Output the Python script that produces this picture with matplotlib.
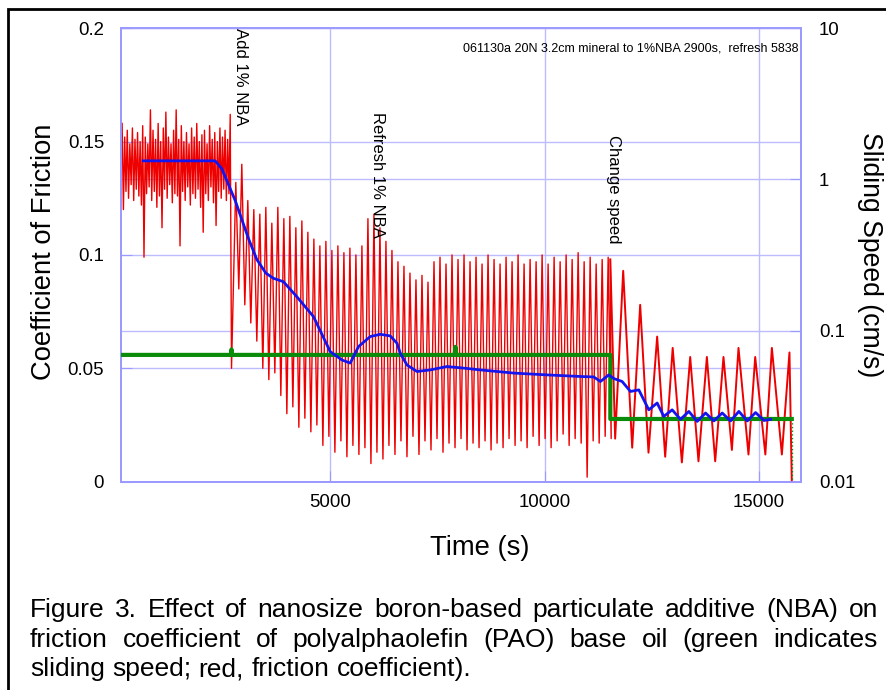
import numpy as np
import matplotlib
matplotlib.use("Agg")
import matplotlib.pyplot as plt
from matplotlib.patches import Rectangle

plt.rcParams['font.family'] = ['Liberation Sans', 'DejaVu Sans']

# --- friction, part A: dense noise before the additive (cycle start, step) ---
a_start, a_step = 150, 60
a_peaks = [0.158, 0.152, 0.155, 0.149, 0.156, 0.151, 0.154, 0.150, 0.157, 0.152,
           0.149, 0.164, 0.155, 0.151, 0.158, 0.150, 0.156, 0.163, 0.152, 0.149,
           0.155, 0.164, 0.151, 0.157, 0.150, 0.154, 0.149, 0.156, 0.152, 0.158,
           0.150, 0.153, 0.155, 0.149, 0.157, 0.151, 0.154, 0.150, 0.156, 0.152,
           0.155, 0.151, 0.162]
a_troughs = [0.120, 0.128, 0.125, 0.131, 0.124, 0.129, 0.126, 0.122, 0.099, 0.127,
             0.130, 0.124, 0.128, 0.121, 0.126, 0.112, 0.129, 0.125, 0.131, 0.123,
             0.127, 0.126, 0.104, 0.128, 0.124, 0.130, 0.122, 0.127, 0.125, 0.129,
             0.121, 0.110, 0.127, 0.124, 0.130, 0.123, 0.113, 0.128, 0.125, 0.129,
             0.124, 0.127, 0.050]

# --- friction, part B: stick-slip cycles after adding NBA ---
b_start, b_step = 2800, 140
b_peaks = [0.132, 0.140, 0.124, 0.120, 0.118, 0.121, 0.114, 0.121, 0.116, 0.117,
           0.112, 0.115, 0.110, 0.107, 0.104, 0.106, 0.102, 0.104, 0.101, 0.103,
           0.100, 0.104, 0.116, 0.118, 0.112, 0.106, 0.102, 0.097, 0.095, 0.092,
           0.089, 0.091, 0.088, 0.097, 0.099, 0.096, 0.100, 0.098, 0.100, 0.097,
           0.099, 0.096, 0.100, 0.098, 0.096, 0.099, 0.097, 0.100, 0.096, 0.098,
           0.097, 0.100, 0.096, 0.099, 0.097, 0.100, 0.098, 0.101, 0.097, 0.099,
           0.096, 0.098, 0.099]
b_troughs = [0.085, 0.078, 0.070, 0.062, 0.050, 0.045, 0.048, 0.038, 0.030, 0.033,
             0.024, 0.028, 0.022, 0.025, 0.016, 0.020, 0.013, 0.018, 0.011, 0.016,
             0.012, 0.015, 0.008, 0.013, 0.010, 0.016, 0.012, 0.018, 0.011, 0.020,
             0.012, 0.018, 0.014, 0.019, 0.013, 0.017, 0.015, 0.019, 0.014, 0.017,
             0.015, 0.018, 0.014, 0.017, 0.015, 0.019, 0.016, 0.018, 0.015, 0.020,
             0.016, 0.019, 0.015, 0.018, 0.021, 0.016, 0.019, 0.017, 0.002, 0.018,
             0.017, 0.020, 0.019]

# --- friction, part C: slower speed ---
c_peak_t = [11830, 12226, 12622, 12984, 13392, 13781, 14168, 14518, 14907, 15296, 15706]
c_peaks = [0.093, 0.078, 0.064, 0.059, 0.055, 0.055, 0.055, 0.059, 0.055, 0.059, 0.057]
c_trough_t = [11643, 12040, 12420, 12809, 13198, 13585, 13975, 14364, 14751, 15144, 15529]
c_troughs = [0.019, 0.015, 0.0128, 0.011, 0.0085, 0.009, 0.009, 0.014, 0.012, 0.012, 0.012]
end_t, end_mu = 15760, 0.0

# --- smoothed friction (blue) ---
avg_t = [641, 2319, 2475, 2786, 3100, 3290, 3500, 3677, 3910, 4222, 4611, 5000, 5272,
         5467, 5661, 5933, 6167, 6400, 6556, 6633, 6789, 7022, 7333, 7722, 8111, 8500,
         9278, 10056, 10833, 11144, 11300, 11494, 11611, 11805, 12000, 12194, 12427,
         12622, 12777, 12972, 13166, 13360, 13555, 13750, 13944, 14138, 14333, 14527,
         14722, 14916, 15111, 15266]
avg_mu = [0.1415, 0.1415, 0.138, 0.124, 0.107, 0.098, 0.092, 0.0897, 0.0882, 0.0816,
          0.0728, 0.0574, 0.0537, 0.0523, 0.0596, 0.064, 0.065, 0.0643, 0.0611, 0.0567,
          0.0515, 0.0486, 0.0493, 0.0508, 0.0501, 0.0493, 0.0479, 0.0471, 0.0464,
          0.0462, 0.0442, 0.0471, 0.0455, 0.0442, 0.0398, 0.0405, 0.0317, 0.0347,
          0.0288, 0.0317, 0.0275, 0.031, 0.0266, 0.0303, 0.0268, 0.0303, 0.0268,
          0.031, 0.0268, 0.0305, 0.027, 0.0275]

# --- sliding speed (green, right axis) ---
speed_t = [150, 2690, 2700, 2710, 7900, 7920, 7940, 11530, 11530, 15760]
speed = [0.069, 0.069, 0.075, 0.069, 0.069, 0.078, 0.069, 0.069, 0.026, 0.026]
speed_end_t = [15760, 15760]
speed_end = [0.026, 0.01]

events = [(2900, 0.2, 'Add 1% NBA'), (6100, 0.163, 'Refresh 1% NBA'),
          (11615, 0.153, 'Change speed')]
run_note = '061130a 20N 3.2cm mineral to 1%NBA 2900s,  refresh 5838'
caption = ['Figure 3. Effect of nanosize boron-based particulate additive (NBA) on',
           'friction coefficient of polyalphaolefin (PAO) base oil (green indicates',
           'sliding speed; red, friction coefficient).']


def zigzag(t0, step, peaks, troughs):
    t, v = [], []
    for i, (p, q) in enumerate(zip(peaks, troughs)):
        t += [t0 + i * step, t0 + i * step + step / 2]
        v += [p, q]
    return t, v


ta, va = zigzag(a_start, a_step, a_peaks, a_troughs)
tb, vb = zigzag(b_start, b_step, b_peaks, b_troughs)
tc, vc = [], []
for pt, p, qt, q in zip(c_peak_t, c_peaks, c_trough_t, c_troughs):
    tc += [qt, pt]
    vc += [q, p]
red_t = ta + tb + [11530]
red_mu = va + vb + [0.098]
slow_t = [11530] + tc + [end_t]
slow_mu = [0.098] + vc + [end_mu]

W, H = 886, 690
fig = plt.figure(figsize=(W / 100, H / 100), dpi=100)
ax = fig.add_axes([120.7 / W, 1 - 481.7 / H, 680 / W, 453.5 / H])
ax2 = ax.twinx()
ax.set_zorder(2)
ax.patch.set_visible(False)

frame = '#9a9aff'
gridc = '#bcbcff'

ax.set_xlim(117, 15968)
ax.set_ylim(0, 0.2)
ax2.set_yscale('log')
ax2.set_ylim(0.01, 10)

ax.plot(red_t, red_mu, color='#ee0000', lw=1.0, zorder=2)
ax.plot(slow_t, slow_mu, color='#ee0000', lw=1.4, zorder=2)
ax.plot(speed_t, speed, color='#0a8c0a', lw=3, transform=ax2.transData, zorder=3)
ax.plot(speed_end_t, speed_end, color='#0a8c0a', lw=1, ls=':', transform=ax2.transData, zorder=3)
ax.plot(avg_t, avg_mu, color='#1414ee', lw=2, zorder=4)

ax.set_xticks([5000, 10000, 15000])
ax.set_yticks([0, 0.05, 0.1, 0.15, 0.2])
ax.set_yticklabels(['0', '0.05', '0.1', '0.15', '0.2'])
ax2.set_yticks([0.01, 0.1, 1, 10])
ax2.set_yticklabels(['0.01', '0.1', '1', '10'])
ax2.yaxis.set_minor_locator(matplotlib.ticker.NullLocator())

ax.grid(True, color=gridc, lw=1)
ax2.grid(True, axis='y', color=gridc, lw=1)
ax.tick_params(axis='y', direction='in', length=8, color=frame, labelsize=13.4, pad=12)
ax.tick_params(axis='x', direction='in', length=8, color=frame, labelsize=13.4, pad=9)
ax2.tick_params(axis='y', direction='in', length=8, color=frame, labelsize=13.4, pad=13)
for a in (ax, ax2):
    for s in a.spines.values():
        s.set_color(frame)
        s.set_linewidth(1.3)

for t, y, label in events:
    ax.text(t, y, label, rotation=270, ha='center', va='top', fontsize=12, zorder=5)
ax.text(0.997, 0.955, run_note, transform=ax.transAxes, ha='right', va='center', fontsize=9)

fig.text(44 / W, 1 - 252 / H, 'Coefficient of Friction', rotation=90, ha='center', va='center', fontsize=19.7)
fig.text(870 / W, 1 - 255 / H, 'Sliding Speed (cm/s)', rotation=270, ha='center', va='center', fontsize=19.2)
fig.text(480 / W, 1 - 548 / H, 'Time (s)', ha='center', va='center', fontsize=19.7)

# outer box of the figure panel
fig.add_artist(Rectangle((8 / W, -0.1), 2, 1 - 9 / H + 0.1, transform=fig.transFigure,
                         fill=False, ec='black', lw=2, clip_on=False))

# caption, justified like the source document
cap_size = 19
base_y = [617, 647, 676]
x0, x1 = 30, 878
renderer = fig.canvas.get_renderer()
for k, line in enumerate(caption):
    words = line.split(' ')
    texts = [fig.text(0, 1 - base_y[k] / H, w, fontsize=cap_size, va='baseline') for w in words]
    widths = [t.get_window_extent(renderer).width for t in texts]
    if k < len(caption) - 1:
        gap = (x1 - x0 - sum(widths)) / (len(words) - 1)
    else:
        gap = 0.278 * cap_size * 100 / 72
    x = x0
    for t, w in zip(texts, widths):
        t.set_x(x / W)
        x += w + gap

fig.savefig('out.png', dpi=100)
